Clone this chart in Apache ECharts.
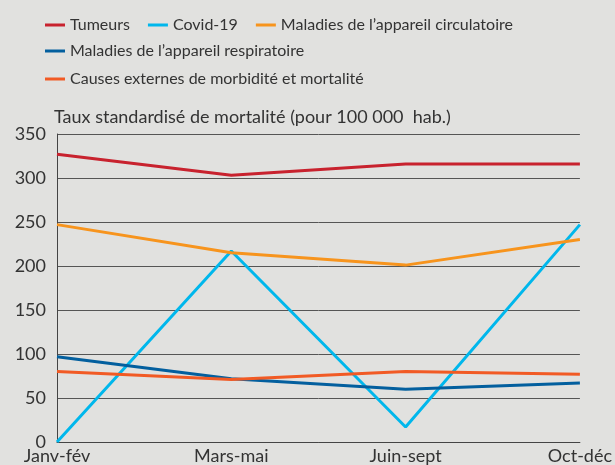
<!DOCTYPE html>
<html>
<head>
<meta charset="utf-8">
<script src="https://cdn.jsdelivr.net/npm/echarts@6/dist/echarts.min.js"></script>
<style>
html,body{margin:0;padding:0;background:#e1e1df;}
#c{width:615px;height:465px;}
</style>
</head>
<body>
<div id="c"></div>
<script>
const categories = ['Janv-fév', 'Mars-mai', 'Juin-sept', 'Oct-déc'];
const tumeurs = [327, 303, 316, 316];
const covid = [0, 217, 17, 247];
const circulatoire = [247, 215, 201, 230];
const respiratoire = [97, 72, 60, 67];
const externes = [80, 71, 80, 77];
const yTicks = [0, 50, 100, 150, 200, 250, 300, 350];

const names = ['Tumeurs', 'Covid-19', "Maladies de l’appareil circulatoire", "Maladies de l’appareil respiratoire", 'Causes externes de morbidité et mortalité'];
const colors = ['#c8222e', '#00b7ec', '#f7941d', '#035f9e', '#f15a24'];
const values = [tumeurs, covid, circulatoire, respiratoire, externes];

const font = 'Lato';
const legendBase = {
  left: 45, itemWidth: 20, itemHeight: 3, itemGap: 18, icon: 'rect',
  textStyle: {fontFamily: font, fontSize: 16, color: '#333'}, padding: 0
};

const chart = echarts.init(document.getElementById('c'));
chart.setOption({
  backgroundColor: '#e1e1df',
  animation: false,
  color: colors,
  legend: [
    Object.assign({}, legendBase, {top: 17, data: names.slice(0, 3)}),
    Object.assign({}, legendBase, {top: 43, data: [names[3]]}),
    Object.assign({}, legendBase, {top: 71, data: [names[4]]})
  ],
  grid: {left: 57, right: 34, top: 134, bottom: 23, containLabel: false},
  xAxis: {
    type: 'category', data: categories, boundaryGap: false,
    axisLine: {show: true, lineStyle: {color: '#444', width: 1}},
    axisTick: {show: false},
    axisLabel: {fontFamily: font, fontSize: 18, color: '#333', margin: 5}
  },
  yAxis: {
    type: 'value', min: 0, max: 350, interval: 50,
    name: 'Taux standardisé de mortalité (pour 100 000  hab.)',
    nameLocation: 'end', nameGap: 8,
    nameTextStyle: {fontFamily: font, fontSize: 18, color: '#333', align: 'left', padding: [0, 0, 0, -3]},
    axisLine: {show: true, lineStyle: {color: '#444', width: 1}},
    axisTick: {show: false},
    axisLabel: {fontFamily: font, fontSize: 18, color: '#333', margin: 11,
      formatter: v => yTicks.includes(v) ? String(v) : ''},
    splitLine: {show: true, lineStyle: {color: '#555', width: 1}}
  },
  series: names.map((n, i) => ({
    name: n, type: 'line', data: values[i], showSymbol: false, symbol: 'none',
    lineStyle: {width: 3, color: colors[i]}, itemStyle: {color: colors[i]}
  }))
});
</script>
</body>
</html>
